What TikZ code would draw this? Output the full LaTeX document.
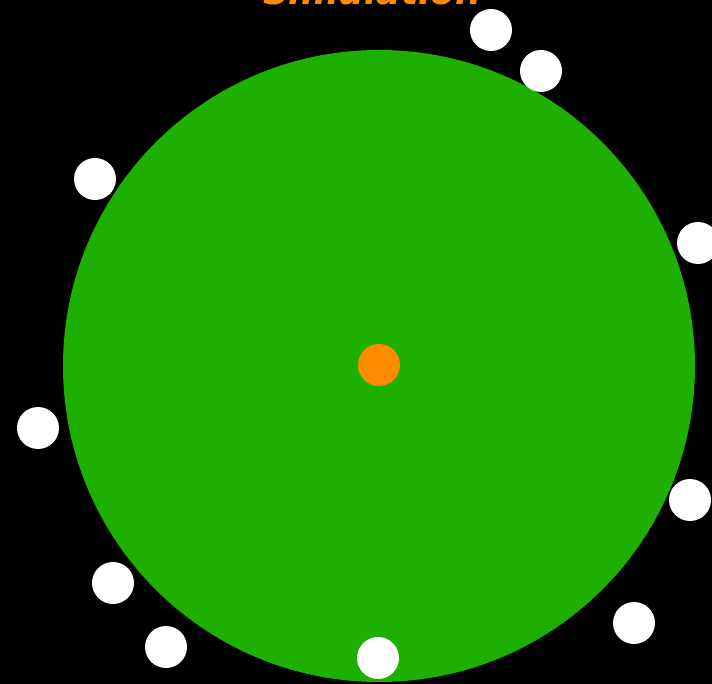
\documentclass[tikz,border=0pt]{standalone}
\usepackage{fontspec}
\setmainfont{DejaVu Sans}
\definecolor{cellgreen}{RGB}{29,176,0}
\definecolor{dotorange}{RGB}{255,140,0}
\tikzset{
  particle/.style={circle,fill=white,minimum size=42pt,inner sep=0pt},
  core/.style={circle,fill=dotorange,minimum size=42pt,inner sep=0pt},
  cell/.style={circle,fill=cellgreen,minimum size=632pt,inner sep=0pt}
}
\begin{document}
\begin{tikzpicture}[x=1pt,y=-1pt]
\useasboundingbox (0,0) rectangle (712,684);
\clip (0,0) rectangle (712,684);
\fill[black] (0,0) rectangle (712,684);

% title, only its lower edge shows
\node[anchor=base,text=dotorange,font=\itshape\bfseries\fontsize{36}{36}\selectfont] (title) at (372,5) {Simulation};

% cell and its core
\node[cell] (cell) at (379,366) {};
\node[core] (core) at (379,365) {};

% particles round the cell
\node[particle] (p1) at (491,30) {};
\node[particle] (p2) at (541,71) {};
\node[particle] (p3) at (95,179) {};
\node[particle] (p4) at (698,243) {};
\node[particle] (p5) at (38,428) {};
\node[particle] (p6) at (690,500) {};
\node[particle] (p7) at (113,583) {};
\node[particle] (p8) at (166,647) {};
\node[particle] (p9) at (378,658) {};
\node[particle] (p10) at (634,623) {};
\end{tikzpicture}
\end{document}
